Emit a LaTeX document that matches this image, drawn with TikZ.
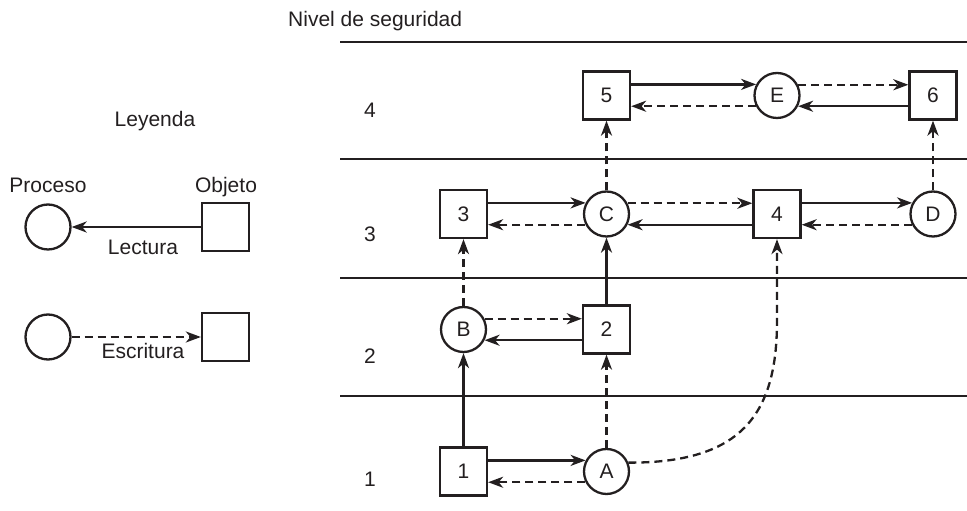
\documentclass[tikz,border=0pt]{standalone}
\usepackage{fontspec}
\setmainfont{Liberation Sans}
\usetikzlibrary{arrows.meta}
\definecolor{ink}{RGB}{35,31,32}
\begin{document}
\begin{tikzpicture}[x=1pt,y=1pt,
  every node/.style={font=\fontsize{21}{25}\selectfont, text=ink},
  obj/.style={draw=ink, line width=2.3pt, minimum width=47pt, minimum height=48pt, inner sep=0pt},
  proc/.style={draw=ink, circle, line width=2.3pt, minimum size=45pt, inner sep=0pt},
  rd/.style={draw=ink, line width=2.3pt, -{Stealth[length=15pt,width=11pt,inset=4.5pt]}},
  wr/.style={rd, dash pattern=on 8pt off 5pt},
  lvl/.style={draw=ink, line width=2.8pt},
  lbl/.style={anchor=base, inner sep=0pt}
]
\useasboundingbox (0,0) rectangle (967,511);

% level lines
\coordinate (l4a) at (340,469); \coordinate (l4b) at (967,469);
\coordinate (l3a) at (340,352); \coordinate (l3b) at (967,352);
\coordinate (l2a) at (340,233); \coordinate (l2b) at (967,233);
\coordinate (l1a) at (340,115); \coordinate (l1b) at (967,115);
\draw[lvl] (l4a) -- (l4b);
\draw[lvl] (l3a) -- (l3b);
\draw[lvl] (l2a) -- (l2b);
\draw[lvl] (l1a) -- (l1b);

% labels
\node[lbl, anchor=base west] (tNivel) at (288,484) {Nivel de seguridad};
\node[lbl] (n4) at (370,393) {4};
\node[lbl] (n3) at (370,269) {3};
\node[lbl] (n2) at (370,147) {2};
\node[lbl] (n1) at (370,24) {1};

% nodes
\node[obj]  (o5) at (606.5,415.5) {5};
\node[proc] (pE) at (777,415.5) {E};
\node[obj]  (o6) at (933,415.5) {6};
\node[obj]  (o3) at (463.5,297) {3};
\node[proc] (pC) at (606.5,297) {C};
\node[obj]  (o4) at (777,297) {4};
\node[proc] (pD) at (933,297) {D};
\node[proc] (pB) at (463.5,181.5) {B};
\node[obj]  (o2) at (606.5,181.5) {2};
\node[obj]  (o1) at (463.5,39.5) {1};
\node[proc] (pA) at (606.5,39.5) {A};

% row 4
\draw[rd] (pE.152.5 -| o5.east) -- (pE.152.5);
\draw[wr] (pE.207.5) -- (pE.207.5 -| o5.east);
\draw[wr] (pE.27.5) -- (pE.27.5 -| o6.west);
\draw[rd] (pE.-27.5 -| o6.west) -- (pE.-27.5);
% row 3
\draw[rd] (pC.152.5 -| o3.east) -- (pC.152.5);
\draw[wr] (pC.207.5) -- (pC.207.5 -| o3.east);
\draw[wr] (pC.27.5) -- (pC.27.5 -| o4.west);
\draw[rd] (pC.-27.5 -| o4.west) -- (pC.-27.5);
\draw[rd] (pD.152.5 -| o4.east) -- (pD.152.5);
\draw[wr] (pD.207.5) -- (pD.207.5 -| o4.east);
% row 2
\draw[wr] (pB.27.5) -- (pB.27.5 -| o2.west);
\draw[rd] (pB.-27.5 -| o2.west) -- (pB.-27.5);
% row 1
\draw[rd] (pA.152.5 -| o1.east) -- (pA.152.5);
\draw[wr] (pA.207.5) -- (pA.207.5 -| o1.east);

% vertical
\draw[wr] (pC.north) -- (o5.south);
\draw[wr] (pD.north) -- (o6.south);
\draw[rd] (o2.north) -- (pC.south);
\draw[wr] (pA.north) -- (o2.south);
\draw[rd] (o1.north) -- (pB.south);
\draw[wr] (pB.north) -- (o3.south);
\coordinate (k1) at (777,190);
\draw[wr] (pA.22) .. controls (740,48) and (777,95) .. (k1) -- (o4.south);

% legend
\node[lbl] (tLey) at (155,384) {Leyenda};
\node[lbl] (tProc) at (48,318) {Proceso};
\node[lbl] (tObj) at (226,318) {Objeto};
\node[proc] (lp1) at (48,284) {};
\node[obj]  (lo1) at (225.5,284) {};
\draw[rd] (lo1.west) -- (lp1.east);
\node[lbl] (tLec) at (143,256) {Lectura};
\node[proc] (lp2) at (48,174) {};
\node[obj]  (lo2) at (225.5,174) {};
\draw[wr] (lp2.east) -- (lo2.west);
\node[lbl] (tEsc) at (143,152) {Escritura};
\end{tikzpicture}
\end{document}
